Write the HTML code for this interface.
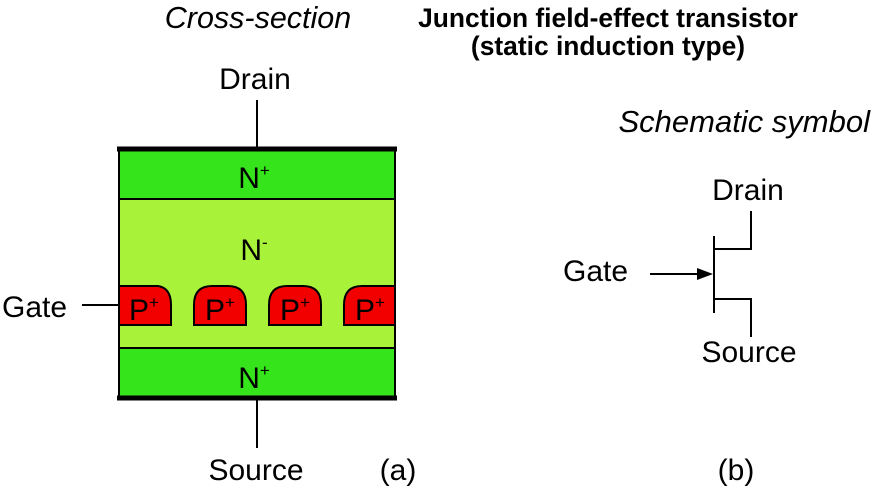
<!DOCTYPE html>
<html><head><style>
body{margin:0;background:#fff;}
svg{display:block;font-family:"Liberation Sans",sans-serif;}
</style></head><body>
<svg width="874" height="488" viewBox="0 0 874 488" xmlns="http://www.w3.org/2000/svg">
<g font-size="30" fill="#000">
<text x="258" y="28" text-anchor="middle" font-style="italic" font-size="30.5">Cross-section</text>
<text x="608" y="27" text-anchor="middle" font-weight="bold" font-size="26.4">Junction field-effect transistor</text>
<text x="608" y="55" text-anchor="middle" font-weight="bold" font-size="26.4">(static induction type)</text>
<text x="870" y="132" text-anchor="end" font-style="italic" font-size="31">Schematic symbol</text>
<text x="255" y="89" text-anchor="middle">Drain</text>
<text x="2" y="317">Gate</text>
<text x="256" y="480" text-anchor="middle">Source</text>
<text x="398" y="480" text-anchor="middle">(a)</text>
<text x="736" y="480" text-anchor="middle">(b)</text>
<text x="748" y="200" text-anchor="middle">Drain</text>
<text x="563" y="281">Gate</text>
<text x="749" y="362" text-anchor="middle">Source</text>
</g>
<rect x="119" y="199" width="276" height="149" fill="#a8f23a" stroke="#000" stroke-width="2"/>
<rect x="119" y="150" width="276" height="49" fill="#36e41c" stroke="#000" stroke-width="2"/>
<rect x="119" y="348" width="276" height="50" fill="#36e41c" stroke="#000" stroke-width="2"/>
<g fill="#f20000" stroke="#000" stroke-width="2">
<path d="M119 325 V286 H158 Q171 288 171 305 V325 Z"/>
<path d="M194 325 V305 Q194 286 212 286 H228 Q246 286 246 305 V325 Z"/>
<path d="M269 325 V305 Q269 286 287 286 H303 Q321 286 321 305 V325 Z"/>
<path d="M395 325 V286 H362 Q344 286 344 305 V325 Z"/>
</g>
<line x1="117" y1="149" x2="397" y2="149" stroke="#000" stroke-width="5"/>
<line x1="117" y1="398" x2="397" y2="398" stroke="#000" stroke-width="5"/>
<g stroke="#000" stroke-width="2">
<line x1="257" y1="100" x2="257" y2="149"/>
<line x1="257" y1="398" x2="257" y2="448"/>
<line x1="82" y1="305" x2="119" y2="305"/>
</g>
<g font-size="30" text-anchor="middle">
<text x="254" y="188">N<tspan font-size="17" dy="-12">+</tspan></text>
<text x="254" y="260">N<tspan font-size="17" dy="-12">-</tspan></text>
<text x="254" y="388">N<tspan font-size="17" dy="-12">+</tspan></text>
<text x="144" y="320">P<tspan font-size="17" dy="-12">+</tspan></text>
<text x="220" y="320">P<tspan font-size="17" dy="-12">+</tspan></text>
<text x="295" y="320">P<tspan font-size="17" dy="-12">+</tspan></text>
<text x="370" y="320">P<tspan font-size="17" dy="-12">+</tspan></text>
</g>
<g stroke="#000" stroke-width="2" fill="none">
<line x1="714" y1="236" x2="714" y2="313"/>
<polyline points="714,249 751,249 751,211"/>
<polyline points="714,299 751,299 751,337"/>
<line x1="650" y1="274" x2="700" y2="274"/>
</g>
<polygon points="713,274 697,268 697,280" fill="#000"/>
</svg>
</body></html>
